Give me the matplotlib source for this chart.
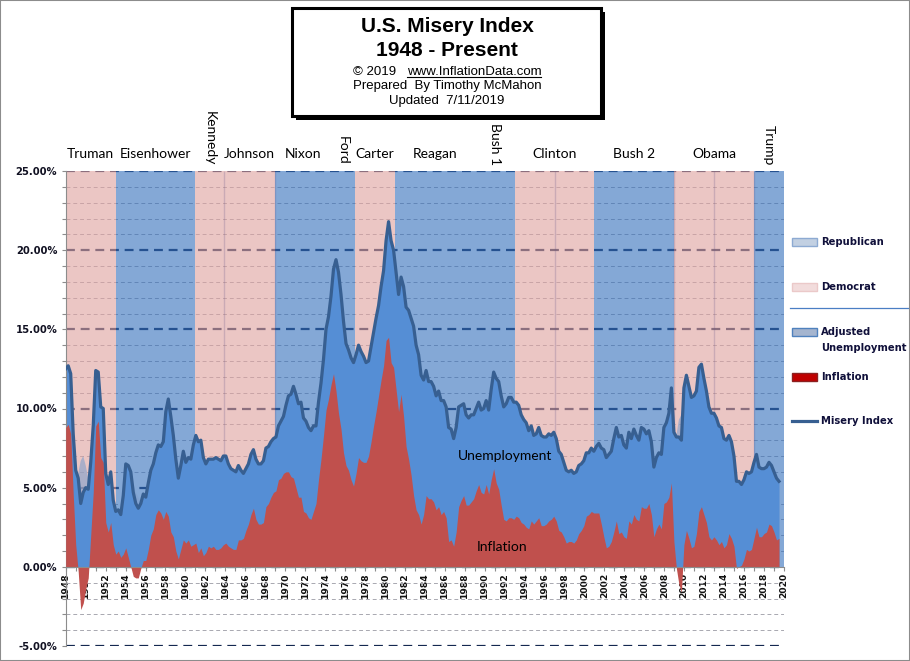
import matplotlib
matplotlib.use("Agg")
import matplotlib.pyplot as plt
import numpy as np
from matplotlib.patches import Rectangle
from matplotlib.lines import Line2D
from matplotlib.ticker import MultipleLocator, FuncFormatter

W, H = 910, 661

# quarterly values, 1948 Q1 .. 2019 Q2 (percent)
unemployment = [
    3.7, 3.7, 3.8, 3.8,   4.7, 5.9, 6.7, 7.0,   6.4, 5.6, 4.6, 4.2,   3.5, 3.1, 3.2, 3.4,   # 1948-51
    3.1, 3.0, 3.2, 2.8,   2.7, 2.6, 2.7, 3.7,   5.3, 5.8, 6.0, 5.3,   4.7, 4.4, 4.1, 4.2,   # 1952-55
    4.0, 4.2, 4.1, 4.1,   3.9, 4.1, 4.2, 4.9,   6.3, 7.4, 7.3, 6.4,   5.8, 5.1, 5.3, 5.6,   # 1956-59
    5.1, 5.2, 5.5, 6.3,   6.8, 7.0, 6.8, 6.2,   5.6, 5.5, 5.6, 5.5,   5.8, 5.7, 5.5, 5.6,   # 1960-63
    5.5, 5.2, 5.0, 5.0,   4.9, 4.7, 4.4, 4.1,   3.9, 3.8, 3.8, 3.7,   3.8, 3.8, 3.8, 3.9,   # 1964-67
    3.7, 3.6, 3.5, 3.4,   3.4, 3.4, 3.6, 3.6,   4.2, 4.8, 5.2, 5.8,   5.9, 5.9, 6.0, 5.9,   # 1968-71
    5.8, 5.7, 5.6, 5.4,   4.9, 4.9, 4.8, 4.8,   5.1, 5.2, 5.6, 6.6,   8.3, 8.9, 8.5, 8.3,   # 1972-75
    7.7, 7.6, 7.7, 7.8,   7.5, 7.1, 6.9, 6.7,   6.3, 6.0, 6.0, 5.9,   5.9, 5.7, 5.9, 6.0,   # 1976-79
    6.3, 7.3, 7.7, 7.4,   7.4, 7.4, 7.4, 8.2,   8.8, 9.4, 9.9, 10.7,  10.4, 10.1, 9.4, 8.5,  # 1980-83
    7.9, 7.4, 7.4, 7.3,   7.2, 7.3, 7.2, 7.0,   7.0, 7.2, 7.0, 6.8,   6.6, 6.3, 6.0, 5.8,   # 1984-87
    5.7, 5.5, 5.5, 5.3,   5.2, 5.2, 5.2, 5.4,   5.3, 5.3, 5.7, 6.1,   6.6, 6.8, 6.9, 7.1,   # 1988-91
    7.4, 7.6, 7.6, 7.4,   7.2, 7.1, 6.8, 6.6,   6.6, 6.2, 6.0, 5.6,   5.5, 5.7, 5.7, 5.6,   # 1992-95
    5.5, 5.5, 5.3, 5.3,   5.2, 5.0, 4.9, 4.7,   4.6, 4.4, 4.5, 4.4,   4.3, 4.3, 4.2, 4.1,   # 1996-99
    4.0, 3.9, 4.0, 3.9,   4.2, 4.4, 4.8, 5.5,   5.7, 5.8, 5.7, 5.9,   5.9, 6.1, 6.1, 5.8,   # 2000-03
    5.7, 5.6, 5.4, 5.4,   5.3, 5.1, 5.0, 5.0,   4.7, 4.6, 4.6, 4.4,   4.5, 4.5, 4.7, 4.8,   # 2004-07
    5.0, 5.3, 6.0, 6.9,   8.3, 9.3, 9.6, 9.9,   9.8, 9.6, 9.5, 9.5,   9.0, 9.1, 9.0, 8.6,   # 2008-11
    8.3, 8.2, 8.0, 7.8,   7.7, 7.5, 7.2, 6.9,   6.6, 6.2, 6.1, 5.7,   5.5, 5.4, 5.1, 5.0,   # 2012-15
    4.9, 4.9, 4.9, 4.8,   4.6, 4.4, 4.3, 4.1,   4.1, 3.9, 3.8, 3.8,   3.9, 3.6,             # 2016-19
]
inflation = [
    8.8, 9.0, 8.4, 4.6,   1.4, -0.3, -2.7, -2.3,  -1.4, -0.7, 2.0, 4.7,  8.9, 9.2, 6.9, 6.6,  # 1948-51
    2.8, 2.2, 2.8, 1.4,   0.8, 1.0, 0.6, 0.8,   1.2, 0.6, 0.0, -0.6,  -0.7, -0.7, -0.1, 0.4,  # 1952-55
    0.4, 1.1, 2.0, 2.4,   3.3, 3.6, 3.4, 3.0,   3.5, 3.2, 2.2, 1.9,   1.0, 0.5, 1.1, 1.7,   # 1956-59
    1.5, 1.7, 1.3, 1.4,   1.5, 0.9, 1.2, 0.7,   0.9, 1.3, 1.2, 1.3,   1.1, 1.1, 1.2, 1.4,   # 1960-63
    1.5, 1.3, 1.2, 1.1,   1.1, 1.7, 1.7, 1.8,   2.3, 2.7, 3.3, 3.7,   3.0, 2.7, 2.7, 2.8,   # 1964-67
    3.8, 4.0, 4.4, 4.7,   4.8, 5.5, 5.6, 5.9,   6.0, 6.0, 5.7, 5.6,   5.0, 4.4, 4.4, 3.5,   # 1968-71
    3.4, 3.1, 3.0, 3.5,   4.0, 5.5, 6.8, 8.3,   9.9, 10.6, 11.5, 12.2, 11.1, 9.7, 8.7, 7.2,  # 1972-75
    6.4, 6.1, 5.5, 5.1,   5.9, 6.9, 6.7, 6.6,   6.6, 7.0, 7.9, 8.9,   9.8, 10.8, 11.8, 12.7, # 1976-79
    14.3, 14.5, 12.9, 12.6, 11.2, 9.8, 10.9, 9.5, 7.6, 6.8, 5.8, 4.5,  3.6, 3.3, 2.7, 3.3,   # 1980-83
    4.5, 4.3, 4.3, 4.1,   3.6, 3.8, 3.3, 3.5,   3.1, 1.6, 1.7, 1.3,   2.2, 3.8, 4.2, 4.5,   # 1984-87
    3.9, 3.9, 4.1, 4.3,   4.8, 5.2, 4.7, 4.6,   5.2, 4.6, 5.5, 6.2,   5.3, 4.9, 3.9, 3.0,   # 1988-91
    2.9, 3.1, 3.1, 3.0,   3.2, 3.1, 2.8, 2.7,   2.5, 2.4, 2.9, 2.7,   2.9, 3.1, 2.6, 2.6,   # 1992-95
    2.7, 2.9, 3.0, 3.2,   2.9, 2.3, 2.2, 1.9,   1.5, 1.6, 1.6, 1.5,   1.7, 2.1, 2.3, 2.6,   # 1996-99
    3.2, 3.3, 3.5, 3.4,   3.4, 3.4, 2.7, 1.9,   1.2, 1.3, 1.6, 2.2,   2.9, 2.1, 2.2, 1.9,   # 2000-03
    1.8, 2.9, 2.7, 3.3,   3.0, 2.9, 3.8, 3.7,   3.7, 4.0, 3.3, 1.9,   2.4, 2.7, 2.4, 4.0,   # 2004-07
    4.1, 4.4, 5.3, 1.6,   -0.1, -1.1, -1.6, 1.4, 2.3, 1.8, 1.2, 1.3,   2.1, 3.5, 3.8, 3.3,  # 2008-11
    2.8, 1.9, 1.7, 1.9,   1.7, 1.4, 1.6, 1.2,   1.4, 2.1, 1.8, 1.3,   -0.1, 0.0, 0.1, 0.5,  # 2012-15
    1.1, 1.0, 1.1, 1.8,   2.5, 1.9, 1.9, 2.1,   2.2, 2.7, 2.6, 2.2,   1.7, 1.8,             # 2016-19
]
data_start, data_end = 1948.0, 2019.5

presidents = ["Truman", "Eisenhower", "Kennedy", "Johnson", "Nixon", "Ford", "Carter",
              "Reagan", "Bush 1", "Clinton", "Bush 2", "Obama", "Trump"]
term_start = [1948.0, 1953.0, 1961.0, 1963.9, 1969.0, 1974.6, 1977.0,
              1981.0, 1989.0, 1993.0, 2001.0, 2009.0, 2017.0]
term_end = term_start[1:] + [2020.0]
party = ["D", "R", "D", "D", "R", "R", "D", "R", "R", "D", "R", "D", "R"]
vertical_names = ["Kennedy", "Ford", "Bush 1", "Trump"]
term_dividers = [1963.9, 1969.0, 1997.0, 2009.0, 2013.0, 2017.0]

unemp = np.array(unemployment)
infl = np.array(inflation)
misery = unemp + infl
x = np.linspace(data_start, data_end, len(unemp))


def fx(px):
    return px / W


def fy(py):
    return 1 - py / H


fig = plt.figure(figsize=(W / 100, H / 100), dpi=100)
ax = fig.add_axes([fx(65.7), fy(646), (784 - 65.7) / W, 475 / H])
ax.set_xlim(1948, 2020)
ax.set_ylim(-5, 25)

# party shading (semi-transparent so the grid shows through)
shade = {"R": "#326EBB", "D": "#DEA09E"}
for s, e, p in zip(term_start, term_end, party):
    ax.axvspan(s, e, ymin=5 / 30, ymax=1, color=shade[p], alpha=0.6, lw=0, zorder=1)
ax.vlines(term_dividers, 0, 25, color="#6a5a8a", alpha=0.25, lw=1, zorder=1.5)

ax.set_axisbelow(True)
ax.yaxis.set_major_locator(MultipleLocator(5))
ax.yaxis.set_minor_locator(MultipleLocator(1))
ax.yaxis.grid(True, which="major", color="#142850", lw=1.6, ls=(0, (4, 2.6)))
ax.yaxis.grid(True, which="minor", color="#a8a8b0", lw=0.7, ls=(0, (4, 3)))

# data
ax.fill_between(x, 0, misery, color="#558ED5", lw=0, zorder=2)
ax.fill_between(x, misery, unemp, where=infl < 0, interpolate=True,
                color="#7F9FCC", alpha=0.6, lw=0, zorder=2)
ax.fill_between(x, 0, infl, color="#C0504D", lw=0, zorder=3)
ax.plot(x, misery, color="#375F91", lw=2.3, zorder=4, solid_joinstyle="round")

ax.text(1992.0, 7.0, "Unemployment", ha="center", va="center", fontsize=10,
        family="Lato", zorder=5)
ax.text(1991.7, 1.26, "Inflation", ha="center", va="center", fontsize=10,
        family="Lato", zorder=5)

# president names
for name, s, e in zip(presidents, term_start, term_end):
    mid = (s + e) / 2
    if name in vertical_names:
        ax.text(mid, 25.38, name, rotation=270, ha="center", va="bottom",
                fontsize=10, family="Lato", clip_on=False)
    else:
        ax.text(mid, 26.07, name, ha="center", va="center", fontsize=10,
                family="Lato", clip_on=False)

# axes styling
for side in ("top", "right"):
    ax.spines[side].set_visible(False)
ax.spines["bottom"].set_position(("data", 0))
ax.spines["bottom"].set_color("#8c8c8c")
ax.spines["left"].set_color("#8c8c8c")
ax.spines["bottom"].set_zorder(6)

ax.yaxis.set_major_formatter(FuncFormatter(lambda v, p: f"{v:.2f}%"))
ax.tick_params(axis="y", which="both", direction="out", length=3, width=0.8,
               color="#8c8c8c")
ax.tick_params(axis="y", which="major", labelsize=7.2, pad=3, labelcolor="#111122")
ax.xaxis.set_major_locator(MultipleLocator(2))
ax.xaxis.set_minor_locator(MultipleLocator(1))
ax.xaxis.set_major_formatter(FuncFormatter(lambda v, p: f"{int(v)}"))
ax.tick_params(axis="x", which="both", direction="out", length=3, width=0.8,
               color="#8c8c8c")
ax.tick_params(axis="x", which="major", labelsize=6.6, pad=1, labelrotation=90,
               labelcolor="#111111")
plt.setp(ax.get_yticklabels(), fontweight="bold")
plt.setp(ax.get_xticklabels(), fontweight="bold", va="top")

# title box
fig.add_artist(Rectangle((fx(296), fy(120)), 309 / W, 108 / H, transform=fig.transFigure,
                         fc="black", ec="none"))
fig.add_artist(Rectangle((fx(292), fy(116)), 309 / W, 108 / H, transform=fig.transFigure,
                         fc="white", ec="black", lw=2.2))
title_font = dict(family="Liberation Sans", ha="center", color="black")
fig.text(fx(447), fy(26), "U.S. Misery Index", va="center", fontsize=15,
         fontweight="bold", **title_font)
fig.text(fx(447), fy(51), "1948 - Present", va="center", fontsize=15,
         fontweight="bold", **title_font)
fig.text(fx(447), fy(86), "Prepared  By Timothy McMahon", va="center", fontsize=9.5,
         **title_font)
fig.text(fx(447), fy(101), "Updated  7/11/2019", va="center", fontsize=9.5,
         **title_font)

t1 = fig.text(0, fy(75), "\u00a9 2019", va="baseline", fontsize=9.5,
              family="Liberation Sans", ha="left")
t2 = fig.text(0, fy(75), "www.InflationData.com", va="baseline", fontsize=9.5,
              family="Liberation Sans", ha="left")
fig.canvas.draw()
w1 = t1.get_window_extent().width
w2 = t2.get_window_extent().width
gap = 11
left = 447 - (w1 + gap + w2) / 2
t1.set_x(fx(left))
t2.set_x(fx(left + w1 + gap))
fig.add_artist(Line2D([fx(left + w1 + gap), fx(left + w1 + gap + w2)], [fy(76.5), fy(76.5)],
                      transform=fig.transFigure, color="black", lw=0.8))

# legend
leg_font = dict(fontsize=7.2, fontweight="bold", color="#10103a", va="center")


def swatch(py, fc, ec):
    fig.add_artist(Rectangle((fx(792), fy(py + 4)), 25 / W, 8 / H,
                             transform=fig.transFigure, fc=fc, ec=ec, lw=1))


swatch(242, "#C2D0E2", "#8DAAD2")
fig.text(fx(821), fy(242), "Republican", **leg_font)
swatch(287, "#F2DCDC", "#EBC9C9")
fig.text(fx(821), fy(287), "Democrat", **leg_font)
fig.add_artist(Line2D([fx(790), fx(908)], [fy(308), fy(308)], transform=fig.transFigure,
                      color="#4A7EC4", lw=0.9))
swatch(332, "#A5B5CF", "#4F81BD")
fig.text(fx(821), fy(332), "Adjusted", **leg_font)
fig.text(fx(821), fy(348), "Unemployment", **leg_font)
swatch(377, "#C00000", "#8B2020")
fig.text(fx(821), fy(377), "Inflation", **leg_font)
fig.add_artist(Line2D([fx(792), fx(817)], [fy(421), fy(421)], transform=fig.transFigure,
                      color="#375F91", lw=2.3))
fig.text(fx(821), fy(421), "Misery Index", **leg_font)

# outer frame
fig.add_artist(Rectangle((0, 0), 1, 1, transform=fig.transFigure, fill=False,
                         ec="#8c8c8c", lw=1.5))

fig.savefig("out.png", dpi=100)
